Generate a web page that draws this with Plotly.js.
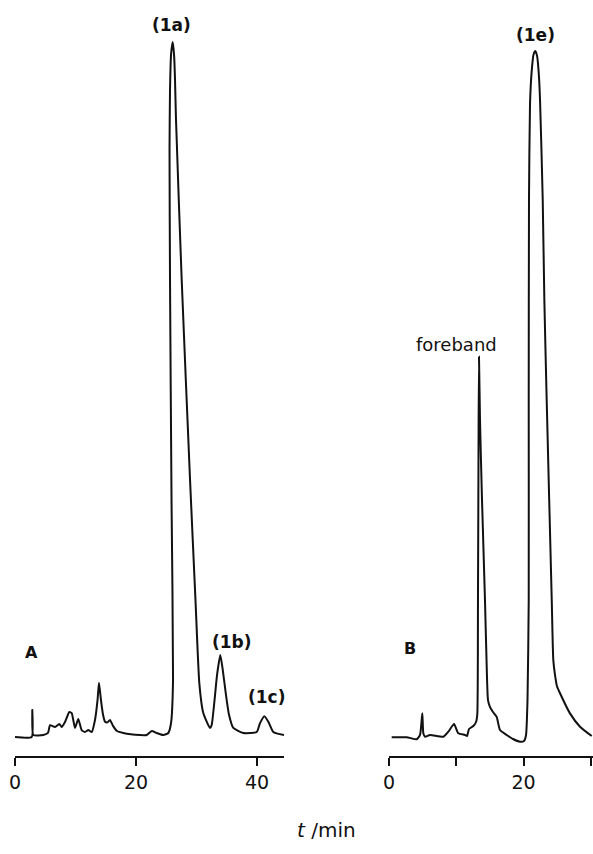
<!DOCTYPE html>
<html>
<head>
<meta charset="utf-8">
<script src="https://cdn.plot.ly/plotly-3.0.1.min.js"></script>
<style>html,body{margin:0;padding:0;background:#fff;}#chart{width:593px;height:854px;}</style>
</head>
<body>
<div id="chart"></div>
<script>
// Panel A chromatogram: retention time (min) and detector signal (peak (1a) = 100)
const tA = [0, 2.76, 2.86, 3.02, 4.68, 5.45, 5.79, 6.61, 7.32, 7.72, 8.26, 8.98, 9.37, 9.92, 10.46, 11.02, 11.57, 12.12, 12.68, 13.22, 13.64, 13.88, 14.21, 14.55, 14.88, 15.3, 15.7, 16.2, 16.86, 17.9, 20.66, 21.77, 22.6, 23.42, 24.51, 25.34, 25.79, 26.12, 25.87, 25.62, 25.54, 25.62, 25.8, 26.07, 26.3, 26.45, 26.61, 27.55, 28.93, 29.83, 30.46, 31.12, 32.23, 32.5, 32.98, 33.39, 33.93, 34.3, 34.88, 35.37, 36.08, 37.74, 39.95, 40.5, 41.21, 41.87, 42.69, 44.46];
const sA = [0, 0, 3.9, 0.29, 0.29, 0.58, 1.7, 1.44, 1.87, 1.44, 2.16, 3.6, 3.45, 1.3, 2.6, 1.0, 0.72, 1.0, 0.72, 2.45, 5.3, 7.8, 5.3, 3.2, 2.2, 2.1, 2.45, 1.6, 0.86, 0.58, 0.29, 0.29, 0.86, 0.58, 0.29, 0.58, 2.01, 8.2, 34.1, 65.8, 84.5, 93.0, 98.3, 100, 98.0, 94.5, 88.8, 65.8, 37.0, 19.7, 7.8, 3.45, 1.29, 1.7, 5.3, 8.9, 11.8, 9.9, 6.0, 3.2, 1.3, 0.58, 0.72, 2.0, 3.0, 2.2, 0.72, 0.29];

// Panel B chromatogram
const tB = [0.4, 2.63, 4.12, 4.61, 4.95, 5.1, 5.35, 6.09, 8.07, 8.81, 9.66, 10.3, 11.29, 11.6, 11.89, 12.53, 12.93, 13.12, 13.22, 13.3, 13.37, 13.52, 13.82, 14.26, 14.49, 14.71, 15.01, 15.45, 16.0, 16.49, 17.49, 18.42, 19.47, 20.06, 20.36, 20.58, 20.76, 20.76, 20.8, 20.95, 21.2, 21.48, 21.74, 22.0, 22.25, 22.44, 22.84, 23.08, 23.43, 24.18, 24.41, 24.67, 24.96, 25.41, 26.89, 28.38, 30.12];
const sB = [-0.04, -0.04, -0.33, 0.29, 3.4, 0.53, 0.04, 0.29, 0.04, 0.76, 1.87, 0.53, 0.29, 0.14, 1.15, 1.58, 2.16, 3.3, 19.7, 41.3, 54.7, 45.6, 34.1, 19.7, 11.1, 5.3, 4.3, 3.6, 2.9, 1.0, 0.29, -0.29, -0.68, -0.58, 0.29, 5.3, 19.7, 48.5, 77.3, 91.0, 95.8, 98.2, 98.7, 98.0, 95.5, 91.7, 77.3, 62.9, 48.5, 19.7, 11.1, 8.9, 7.3, 6.3, 3.4, 1.48, 0.14];

// Axis ticks
const tickValsA = [0, 20, 40];
const tickTextA = ["0", "20", "40"];
const tickValsB = [0, 10, 20, 30];
const tickTextB = ["0", "", "20", ""];

const FONT = "DejaVu Sans, sans-serif";
const ink = "#111111";

const lineStyle = {color: ink, width: 2, shape: "spline", smoothing: 0.5};

const data = [
  {x: tA, y: sA, xaxis: "x", yaxis: "y", mode: "lines", line: lineStyle, hoverinfo: "skip"},
  {x: tB, y: sB, xaxis: "x2", yaxis: "y", mode: "lines", line: lineStyle, hoverinfo: "skip"}
];

const axisCommon = {
  showline: true, linecolor: ink, linewidth: 2,
  ticks: "outside", ticklen: 8, tickwidth: 2, tickcolor: ink,
  showgrid: false, zeroline: false, tickmode: "array",
  tickfont: {family: FONT, size: 19, color: ink}, fixedrange: true
};

const layout = {
  width: 593, height: 854,
  margin: {l: 0, r: 0, t: 0, b: 98, pad: 0},
  paper_bgcolor: "#ffffff", plot_bgcolor: "#ffffff",
  showlegend: false,
  xaxis: Object.assign({}, axisCommon, {domain: [15/593, 284/593], range: [0, 44.46], tickvals: tickValsA, ticktext: tickTextA, anchor: "y"}),
  xaxis2: Object.assign({}, axisCommon, {domain: [389/593, 1], range: [0, 30.31], tickvals: tickValsB, ticktext: tickTextB, anchor: "y"}),
  yaxis: {range: [-2.734, 106.04], visible: false, fixedrange: true},
  annotations: [
    {xref: "x", yref: "y", x: 25.9, y: 102.4, text: "<b>(1a)</b>", showarrow: false, font: {family: FONT, size: 17, color: ink}},
    {xref: "x", yref: "y", x: 35.8, y: 13.7, text: "<b>(1b)</b>", showarrow: false, font: {family: FONT, size: 17, color: ink}},
    {xref: "x", yref: "y", x: 41.6, y: 5.7, text: "<b>(1c)</b>", showarrow: false, font: {family: FONT, size: 17, color: ink}},
    {xref: "x", yref: "y", x: 2.65, y: 12.2, text: "<b>A</b>", showarrow: false, font: {family: FONT, size: 16, color: ink}},
    {xref: "x2", yref: "y", x: 3.12, y: 12.7, text: "<b>B</b>", showarrow: false, font: {family: FONT, size: 16, color: ink}},
    {xref: "x2", yref: "y", x: 9.96, y: 56.5, text: "foreband", showarrow: false, font: {family: FONT, size: 18, color: ink}},
    {xref: "x2", yref: "y", x: 21.7, y: 101.0, text: "<b>(1e)</b>", showarrow: false, font: {family: FONT, size: 17, color: ink}},
    {xref: "paper", yref: "paper", x: 326/593, y: 1 - 844/756, text: "<i>t</i> /min", showarrow: false, font: {family: FONT, size: 20, color: ink}}
  ]
};

Plotly.newPlot("chart", data, layout, {displayModeBar: false, staticPlot: true});
</script>
</body>
</html>
